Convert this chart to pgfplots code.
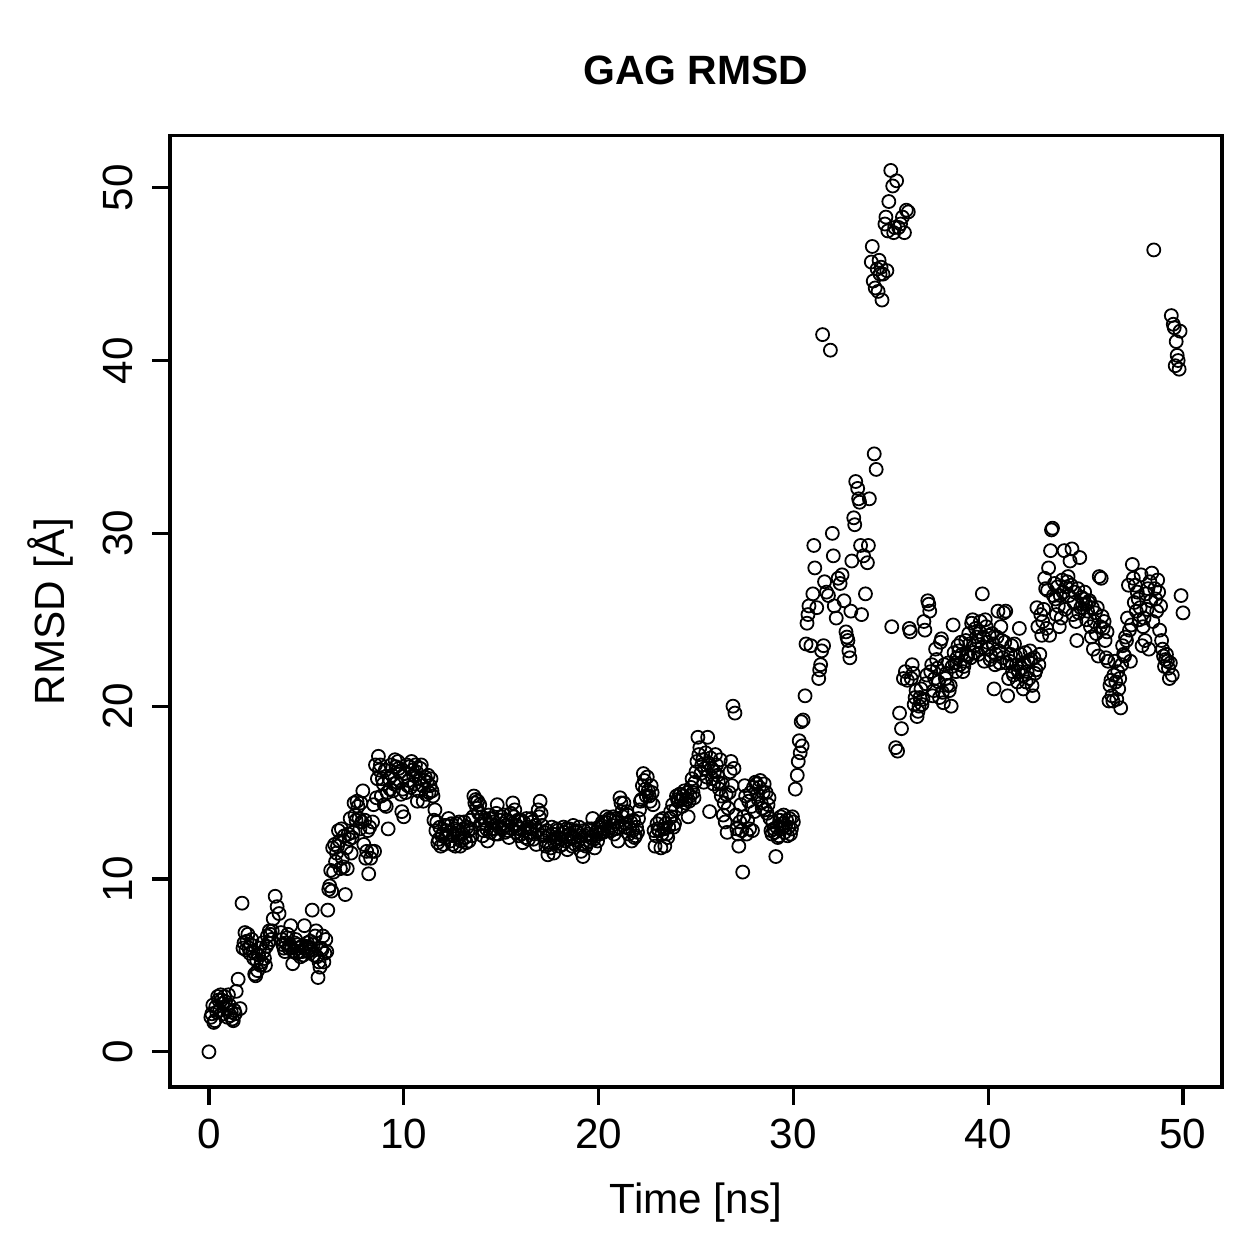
\documentclass[border=0pt]{standalone}
\usepackage{pgfplots}
\pgfplotsset{compat=1.18}
\usepackage{fontspec}
\setmainfont{Liberation Sans}
\begin{document}
\begin{tikzpicture}
\path[use as bounding box] (0,0) rectangle (387.4pt,387.4pt);
\begin{axis}[
  at={(52.3pt,52.9pt)}, anchor=south west,
  width=323.7pt, height=292.9pt, scale only axis,
  xmin=-2, xmax=52, ymin=-2.04, ymax=53.04,
  xtick={0,10,20,30,40,50}, ytick={0,10,20,30,40,50},
  tick align=outside, xtick pos=left, ytick pos=left,
  major tick length=5.5pt,
  axis line style={line width=1pt},
  every tick/.style={line width=1pt, black},
  /pgf/number format/assume math mode=true,
  tick label style={font=\fontsize{13}{15}\selectfont},
  xticklabel style={yshift=-0.8pt},
  yticklabel style={rotate=90, anchor=south, yshift=2.5pt},
  xlabel={Time [ns]}, ylabel={RMSD [Å]},
  label style={font=\fontsize{13}{15}\selectfont},
  xlabel style={at={(axis description cs:0.5,0)}, anchor=center, yshift=-35.4pt},
  ylabel style={at={(axis description cs:0,0.5)}, anchor=center, yshift=36.9pt},
  title={GAG RMSD},
  title style={at={(axis description cs:0.5,1)}, anchor=center, yshift=13.8pt, font=\bfseries\fontsize{12.6}{15}\selectfont},
]
\addplot[only marks, mark=o, mark size=2pt, mark options={line width=0.55pt, black}] coordinates {
(0.0,0.0)(0.1,2.0)(0.2,2.7)(0.3,1.8)(0.4,2.3)(0.5,3.0)(0.6,3.3)(0.7,2.8)(0.8,3.2)(0.9,2.5)
(1.0,3.3)(1.1,2.1)(1.2,1.9)(1.3,2.4)(1.4,3.5)(1.5,4.2)(1.6,2.5)(1.7,8.6)(1.8,6.3)(1.9,5.9)
(2.0,6.8)(2.1,5.7)(2.2,6.5)(2.3,5.4)(2.4,4.4)(2.5,4.7)(2.6,6.0)(2.7,5.2)(2.8,5.8)(2.9,5.0)
(3.0,6.7)(3.1,7.0)(3.2,6.5)(3.3,7.7)(3.4,9.0)(3.5,8.4)(3.6,8.0)(3.7,6.9)(3.8,6.2)(3.9,5.8)
(4.0,6.6)(4.1,6.0)(4.2,7.3)(4.3,5.1)(4.4,6.3)(4.5,5.7)(4.6,6.0)(4.7,5.5)(4.8,5.8)(4.9,7.3)
(5.0,6.1)(5.1,5.8)(5.2,6.4)(5.3,8.2)(5.4,5.6)(5.5,7.0)(5.6,4.3)(5.7,4.9)(5.8,5.9)(5.9,5.2)
(6.0,6.5)(6.1,8.2)(6.2,9.6)(6.3,9.3)(6.4,10.4)(6.5,11.0)(6.6,11.9)(6.7,12.2)(6.8,12.9)(6.9,10.7)
(7.0,9.1)(7.1,10.6)(7.2,12.3)(7.3,11.5)(7.4,12.7)(7.5,13.7)(7.6,14.5)(7.7,13.5)(7.8,14.4)(7.9,15.1)
(8.0,13.4)(8.1,11.6)(8.2,10.3)(8.3,11.2)(8.4,13.3)(8.5,11.6)(8.6,14.7)(8.7,17.1)(8.8,16.6)(8.9,15.8)
(9.0,14.3)(9.1,14.2)(9.2,12.9)(9.3,15.2)(9.4,16.0)(9.5,15.5)(9.6,16.5)(9.7,16.8)(9.8,16.2)(9.9,13.9)
(10.0,13.6)(10.1,15.0)(10.2,15.4)(10.3,16.5)(10.4,16.8)(10.5,16.0)(10.6,16.6)(10.7,14.5)(10.8,15.8)(10.9,16.6)
(11.0,14.5)(11.1,15.9)(11.2,15.6)(11.3,15.0)(11.4,15.8)(11.5,14.8)(11.6,14.0)(11.7,13.3)(11.8,12.3)(11.9,11.9)
(12.0,12.6)(12.1,13.1)(12.2,12.8)(12.3,13.5)(12.4,12.2)(12.5,12.0)(12.6,12.9)(12.7,13.2)(12.8,12.4)(12.9,11.9)
(13.0,12.6)(13.1,13.3)(13.2,12.1)(13.3,12.8)(13.4,13.4)(13.5,12.5)(13.6,14.8)(13.7,14.6)(13.8,14.5)(13.9,14.3)
(14.0,13.6)(14.1,12.8)(14.2,13.2)(14.3,12.2)(14.4,13.5)(14.5,12.9)(14.6,13.3)(14.7,12.6)(14.8,14.3)(14.9,13.0)
(15.0,13.6)(15.1,13.2)(15.2,12.7)(15.3,13.4)(15.4,12.4)(15.5,13.8)(15.6,14.4)(15.7,14.0)(15.8,13.1)(15.9,12.5)
(16.0,13.4)(16.1,12.1)(16.2,12.8)(16.3,13.5)(16.4,12.3)(16.5,12.9)(16.6,13.3)(16.7,12.6)(16.8,12.0)(16.9,14.0)
(17.0,14.5)(17.1,13.1)(17.2,12.7)(17.3,11.9)(17.4,11.4)(17.5,12.5)(17.6,13.0)(17.7,11.5)(17.8,12.3)(17.9,12.8)
(18.0,11.9)(18.1,12.6)(18.2,13.0)(18.3,12.2)(18.4,11.7)(18.5,12.9)(18.6,12.4)(18.7,13.1)(18.8,12.0)(18.9,12.7)
(19.0,13.0)(19.1,11.6)(19.2,11.3)(19.3,12.5)(19.4,12.1)(19.5,12.9)(19.6,12.4)(19.7,13.5)(19.8,11.8)(19.9,12.6)
(20.0,13.0)(20.1,12.7)(20.2,13.3)(20.3,12.9)(20.4,13.6)(20.5,12.8)(20.6,13.4)(20.7,13.1)(20.8,12.6)(20.9,13.5)
(21.0,12.2)(21.1,14.7)(21.2,13.9)(21.3,14.4)(21.4,13.2)(21.5,13.7)(21.6,12.9)(21.7,12.2)(21.8,13.4)(21.9,12.5)
(22.0,12.7)(22.1,14.0)(22.2,14.6)(22.3,16.1)(22.4,15.2)(22.5,15.9)(22.6,14.8)(22.7,15.4)(22.8,14.3)(22.9,11.9)
(23.0,13.2)(23.1,12.8)(23.2,11.8)(23.3,13.5)(23.4,11.9)(23.5,12.6)(23.6,13.0)(23.7,13.9)(23.8,14.3)(23.9,13.2)
(24.0,14.8)(24.1,14.5)(24.2,14.9)(24.3,14.2)(24.4,15.1)(24.5,14.6)(24.6,13.6)(24.7,14.8)(24.8,15.8)(24.9,14.7)
(25.0,16.2)(25.1,18.2)(25.2,17.6)(25.3,16.6)(25.4,15.6)(25.5,17.3)(25.6,18.2)(25.7,13.9)(25.8,16.4)(25.9,15.5)
(26.0,17.2)(26.1,16.0)(26.2,15.2)(26.3,14.8)(26.4,13.7)(26.5,13.3)(26.6,12.7)(26.7,15.0)(26.8,16.8)(26.9,20.0)
(27.0,19.6)(27.1,12.9)(27.2,11.9)(27.3,14.3)(27.4,10.4)(27.5,15.4)(27.6,12.6)(27.7,14.5)(27.8,15.0)(27.9,12.8)
(28.0,13.9)(28.1,15.5)(28.2,14.6)(28.3,15.7)(28.4,14.1)(28.5,15.5)(28.6,15.0)(28.7,14.3)(28.8,13.5)(28.9,12.6)
(29.0,12.9)(29.1,11.3)(29.2,12.4)(29.3,13.4)(29.4,12.9)(29.5,13.7)(29.6,13.1)(29.7,12.5)(29.8,13.5)(29.9,12.9)
(30.0,13.3)(30.1,15.2)(30.2,16.0)(30.25,16.8)(30.3,18.0)(30.35,17.3)(30.4,19.1)(30.45,17.7)(30.5,19.2)(30.6,20.6)
(30.65,23.6)(30.7,24.8)(30.75,25.3)(30.8,25.8)(30.9,23.5)(31.0,26.5)(31.05,29.3)(31.1,28.0)(31.2,25.7)(31.3,21.6)
(31.35,22.1)(31.4,22.4)(31.45,23.2)(31.5,41.5)(31.55,23.5)(31.6,27.2)(31.7,26.6)(31.8,26.4)(31.9,40.6)(32.0,30.0)
(32.05,28.7)(32.1,25.8)(32.2,25.1)(32.3,27.4)(32.4,27.1)(32.5,27.6)(32.6,26.1)(32.7,24.3)(32.75,24.0)(32.8,23.8)
(32.85,23.2)(32.9,22.8)(32.95,25.5)(33.0,28.4)(33.1,30.9)(33.15,30.5)(33.2,33.0)(33.3,32.6)(33.35,32.0)(33.4,31.8)
(33.45,29.3)(33.5,25.3)(33.6,28.7)(33.7,26.5)(33.8,28.3)(33.85,29.3)(33.9,32.0)(34.0,45.7)(34.05,46.6)(34.1,44.6)
(34.15,34.6)(34.2,44.2)(34.25,33.7)(34.3,45.3)(34.35,44.0)(34.4,45.8)(34.45,45.0)(34.5,45.4)(34.55,43.5)(34.6,45.0)
(34.7,47.9)(34.75,48.3)(34.8,45.2)(34.85,47.5)(34.9,49.2)(35.0,51.0)(35.05,24.6)(35.1,50.1)(35.15,47.4)(35.2,47.7)
(35.25,17.6)(35.3,50.4)(35.35,17.4)(35.4,47.7)(35.45,19.6)(35.5,47.9)(35.55,18.7)(35.6,48.3)(35.65,21.6)(35.7,47.4)
(35.75,22.0)(35.8,48.7)(35.85,21.5)(35.9,48.6)(35.95,24.5)(36.0,24.3)(36.1,22.4)(36.2,20.1)(36.3,20.9)(36.4,19.7)
(36.5,20.5)(36.6,20.1)(36.7,24.9)(36.8,21.3)(36.9,26.1)(37.0,25.5)(37.1,22.4)(37.2,20.9)(37.3,23.3)(37.4,22.2)
(37.5,20.5)(37.6,23.9)(37.7,20.2)(37.8,21.6)(37.9,21.2)(38.0,20.9)(38.1,20.0)(38.2,24.7)(38.3,22.5)(38.4,22.8)
(38.5,23.2)(38.6,23.7)(38.7,22.0)(38.8,22.6)(38.9,23.0)(39.0,24.2)(39.1,22.8)(39.2,25.0)(39.3,23.5)(39.4,24.0)
(39.5,23.0)(39.6,24.9)(39.7,26.5)(39.8,22.6)(39.9,24.6)(40.0,23.3)(40.1,22.7)(40.2,24.2)(40.3,21.0)(40.4,23.0)
(40.5,25.5)(40.6,22.5)(40.7,23.8)(40.8,25.4)(40.9,25.5)(41.0,20.6)(41.1,22.6)(41.2,23.5)(41.3,21.8)(41.4,22.9)
(41.5,21.4)(41.6,24.5)(41.7,22.2)(41.8,21.0)(41.9,23.1)(42.0,22.0)(42.1,21.6)(42.2,22.7)(42.3,20.6)(42.4,21.9)
(42.5,25.7)(42.6,22.4)(42.7,25.3)(42.8,24.9)(42.9,27.4)(43.0,24.5)(43.05,26.7)(43.1,28.0)(43.15,24.1)(43.2,29.0)
(43.25,30.2)(43.3,30.3)(43.35,26.4)(43.4,27.1)(43.5,25.3)(43.6,25.8)(43.7,26.4)(43.75,25.1)(43.8,27.3)(43.9,29.0)
(44.0,26.9)(44.1,27.5)(44.2,28.4)(44.3,29.1)(44.4,26.0)(44.5,24.9)(44.55,23.8)(44.6,26.8)(44.7,28.6)(44.75,25.7)
(44.8,26.3)(44.9,26.2)(45.0,25.9)(45.1,25.5)(45.2,26.1)(45.3,24.0)(45.4,23.3)(45.45,24.9)(45.5,25.4)(45.6,25.7)
(45.65,22.9)(45.7,27.5)(45.75,24.6)(45.8,27.4)(45.9,24.5)(46.0,23.8)(46.1,24.3)(46.15,22.6)(46.2,20.3)(46.3,21.5)
(46.4,20.3)(46.45,21.8)(46.5,22.6)(46.55,21.4)(46.6,20.4)(46.7,21.0)(46.8,19.9)(46.9,23.5)(47.0,22.9)(47.1,23.8)
(47.15,25.1)(47.2,27.0)(47.3,22.6)(47.35,24.7)(47.4,28.2)(47.45,27.4)(47.5,26.0)(47.6,25.5)(47.7,26.2)(47.8,25.7)
(47.9,23.5)(48.0,25.1)(48.05,23.8)(48.1,26.5)(48.2,26.8)(48.25,23.3)(48.3,27.2)(48.4,27.7)(48.5,46.4)(48.6,26.2)
(48.7,27.3)(48.8,24.4)(48.85,25.8)(48.9,23.8)(49.0,22.9)(49.1,22.7)(49.2,22.6)(49.25,22.2)(49.3,21.6)(49.35,22.5)
(49.4,42.6)(49.45,21.8)(49.5,42.1)(49.55,41.9)(49.6,39.7)(49.65,41.1)(49.7,40.3)(49.75,40.0)(49.8,39.5)(49.85,41.7)
(49.9,26.4)(50.0,25.4)
(0.15,2.2)(0.25,1.7)(0.35,2.6)(0.45,3.2)(0.55,2.4)(0.65,3.0)(0.75,2.2)(0.85,2.9)(0.95,2.0)(1.05,2.7)(1.15,2.3)(1.25,1.8)(1.35,2.2)
(1.75,6.0)(1.85,6.9)(1.95,6.4)(2.05,6.0)(2.15,6.2)(2.25,5.8)(2.35,4.5)(2.45,5.3)(2.55,5.6)(2.65,5.0)(2.75,6.3)(2.85,5.4)(2.95,6.1)
(3.05,6.3)(3.15,6.8)(3.25,7.0)(3.75,6.5)(3.85,6.0)(3.95,6.3)(4.05,6.8)(4.15,6.2)(4.25,6.0)(4.35,5.8)(4.45,6.5)(4.55,6.2)(4.65,5.8)
(4.75,6.1)(4.85,5.6)(4.95,6.0)(5.05,6.3)(5.15,6.0)(5.25,5.9)(5.35,6.2)(5.45,6.7)(5.55,5.5)(5.65,5.2)(5.75,6.0)(5.85,6.7)(5.95,5.7)
(6.05,5.8)(6.15,9.4)(6.25,10.5)(6.35,11.8)(6.45,12.0)(6.55,11.5)(6.65,12.8)(6.75,10.6)(6.85,11.2)(6.95,12.5)
(7.05,11.8)(7.15,12.6)(7.25,13.5)(7.35,12.4)(7.45,14.4)(7.55,13.4)(7.65,14.2)(7.75,12.9)(7.85,13.3)(7.95,12.0)
(8.05,11.2)(8.15,12.8)(8.25,13.0)(8.35,11.6)(8.45,14.3)(8.55,16.6)(8.65,15.8)(8.75,16.3)(8.85,14.8)(8.95,15.5)
(9.05,16.3)(9.15,15.0)(9.25,15.8)(9.35,16.6)(9.45,15.1)(9.55,16.9)(9.65,15.6)(9.75,16.4)(9.85,14.9)(9.95,15.2)
(10.05,16.1)(10.15,16.6)(10.25,15.7)(10.35,15.3)(10.45,16.3)(10.55,15.5)(10.65,16.2)(10.75,15.1)(10.85,16.4)(10.95,15.4)
(11.05,15.7)(11.15,14.9)(11.25,16.0)(11.35,15.4)(11.45,15.1)(11.55,13.4)(11.65,12.8)(11.75,12.1)(11.85,13.0)(11.95,12.5)
(12.05,12.0)(12.15,12.4)(12.25,13.1)(12.35,12.7)(12.45,13.2)(12.55,12.5)(12.65,11.9)(12.75,12.8)(12.85,13.3)(12.95,12.2)
(13.05,12.9)(13.15,12.4)(13.25,13.0)(13.35,12.2)(13.45,12.9)(13.55,13.6)(13.65,14.4)(13.75,14.1)(13.85,13.8)(13.95,13.2)
(14.05,12.5)(14.15,13.4)(14.25,12.9)(14.35,13.7)(14.45,12.7)(14.55,13.5)(14.65,12.9)(14.75,13.8)(14.85,12.6)(14.95,13.4)
(15.05,12.9)(15.15,13.7)(15.25,13.1)(15.35,12.8)(15.45,13.3)(15.55,12.9)(15.65,13.6)(15.75,12.7)(15.85,13.4)(15.95,12.9)
(16.05,12.6)(16.15,13.3)(16.25,12.4)(16.35,13.0)(16.45,12.7)(16.55,13.5)(16.65,12.3)(16.75,13.1)(16.85,12.8)(16.95,13.6)
(17.05,13.8)(17.15,12.5)(17.25,12.2)(17.35,12.8)(17.45,12.0)(17.55,11.8)(17.65,12.6)(17.75,12.1)(17.85,12.9)(17.95,12.4)
(18.05,12.3)(18.15,12.0)(18.25,12.7)(18.35,12.9)(18.45,12.3)(18.55,12.6)(18.65,11.9)(18.75,12.4)(18.85,12.8)(18.95,12.2)
(19.05,12.5)(19.15,12.0)(19.25,12.8)(19.35,11.9)(19.45,12.6)(19.55,12.2)(19.65,12.9)(19.75,12.3)(19.85,12.7)(19.95,12.2)
(20.05,12.6)(20.15,13.1)(20.25,12.7)(20.35,13.3)(20.45,12.9)(20.55,13.5)(20.65,12.8)(20.75,13.6)(20.85,12.9)(20.95,13.3)
(21.05,13.0)(21.15,14.4)(21.25,13.6)(21.35,13.0)(21.45,13.9)(21.55,12.6)(21.65,13.3)(21.75,12.8)(21.85,12.4)(21.95,13.0)
(22.05,13.5)(22.15,14.5)(22.25,15.4)(22.35,15.7)(22.45,14.8)(22.55,15.1)(22.65,14.5)(22.75,15.0)(22.85,12.8)(22.95,12.5)
(23.05,12.9)(23.15,13.4)(23.25,12.6)(23.35,12.9)(23.45,13.2)(23.55,12.4)(23.65,13.5)(23.75,13.6)(23.85,13.0)(23.95,14.0)
(24.05,14.6)(24.15,14.9)(24.25,14.6)(24.35,14.8)(24.45,14.4)(24.55,15.0)(24.65,14.5)(24.75,15.3)(24.85,15.0)(24.95,15.6)
(25.05,16.8)(25.15,17.2)(25.25,16.1)(25.35,16.9)(25.45,16.4)(25.55,15.9)(25.65,16.7)(25.75,17.0)(25.85,15.8)(25.95,16.2)
(26.05,16.6)(26.15,15.6)(26.25,16.9)(26.35,15.5)(26.45,14.4)(26.55,14.9)(26.65,14.1)(26.75,16.2)(26.85,15.4)(26.95,16.4)
(27.05,13.7)(27.15,12.6)(27.25,13.3)(27.35,12.8)(27.45,13.6)(27.55,14.8)(27.65,13.4)(27.75,12.9)(27.85,14.2)(27.95,15.3)
(28.05,15.6)(28.15,14.9)(28.25,15.3)(28.35,14.4)(28.45,15.0)(28.55,14.0)(28.65,13.8)(28.75,14.7)(28.85,12.8)(28.95,13.3)
(29.05,12.7)(29.15,13.0)(29.25,12.5)(29.35,13.6)(29.45,13.2)(29.55,12.7)(29.65,13.4)(29.75,13.0)(29.85,12.6)(29.95,13.6)
(36.05,21.6)(36.15,21.9)(36.25,20.5)(36.35,19.4)(36.45,20.0)(36.55,21.0)(36.65,20.4)(36.75,24.4)(36.85,21.8)(36.95,25.9)
(37.05,22.0)(37.15,20.6)(37.25,21.6)(37.35,22.7)(37.45,21.4)(37.55,23.7)(37.65,20.8)(37.75,22.4)(37.85,21.9)(37.95,22.5)
(38.05,21.2)(38.15,22.3)(38.25,23.1)(38.35,22.0)(38.45,23.5)(38.55,22.4)(38.65,23.0)(38.75,22.3)(38.85,23.8)(38.95,22.9)
(39.05,23.6)(39.15,24.8)(39.25,23.1)(39.35,24.5)(39.45,23.8)(39.55,24.3)(39.65,23.4)(39.75,24.0)(39.85,25.0)(39.95,23.7)
(40.05,24.1)(40.15,22.9)(40.25,23.6)(40.35,22.4)(40.45,24.0)(40.55,23.2)(40.65,24.6)(40.75,22.8)(40.85,23.7)(40.95,22.5)
(41.05,21.6)(41.15,23.0)(41.25,22.0)(41.35,23.6)(41.45,22.4)(41.55,22.0)(41.65,23.0)(41.75,21.8)(41.85,22.5)(41.95,21.4)
(42.05,22.6)(42.15,23.2)(42.25,21.2)(42.35,22.8)(42.45,22.1)(42.55,24.6)(42.65,23.0)(42.75,24.1)(42.85,25.6)(42.95,26.8)
(43.45,26.2)(43.55,26.9)(43.65,24.6)(43.85,26.6)(43.95,25.6)(44.05,27.2)(44.15,26.4)(44.25,27.0)(44.35,25.3)(44.45,26.6)
(44.65,25.4)(44.85,25.9)(44.95,26.6)(45.05,25.0)(45.15,26.0)(45.25,24.6)(45.35,25.7)(45.55,24.2)(45.85,25.2)(45.95,24.9)
(46.05,22.8)(46.25,21.2)(46.35,20.6)(46.65,22.0)(46.75,21.6)(46.85,22.4)(46.95,23.0)(47.05,24.0)(47.25,24.4)(47.55,27.0)
(47.65,26.6)(47.75,25.0)(47.85,27.6)(47.95,24.6)(48.15,25.6)(48.35,26.1)(48.45,24.9)(48.55,26.8)(48.65,25.5)(48.75,26.6)
(48.95,23.3)(49.05,22.3)(49.15,23.0)
};
\end{axis}
\end{tikzpicture}
\end{document}
